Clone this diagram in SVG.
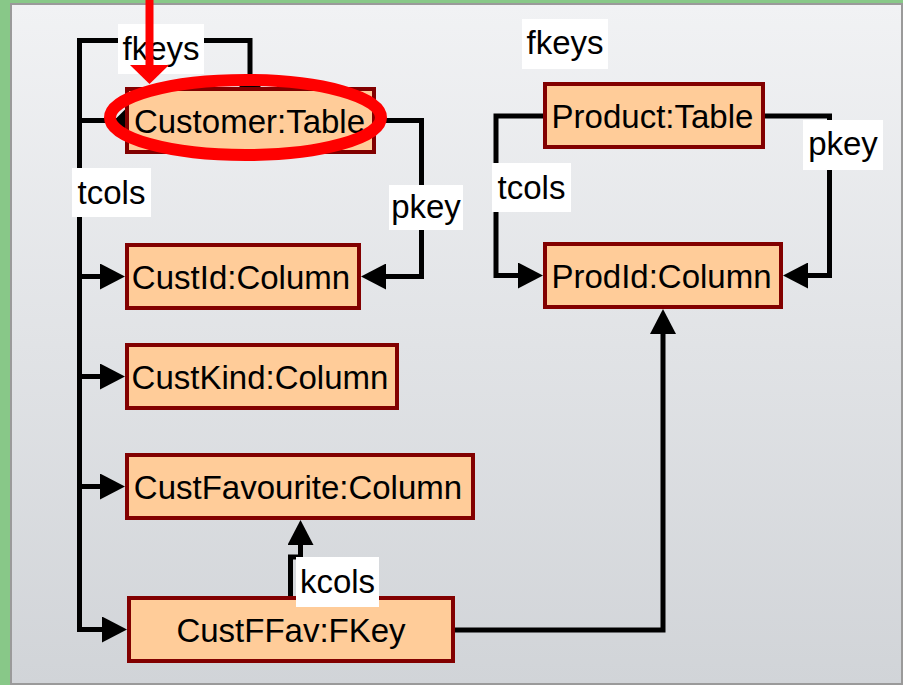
<svg xmlns="http://www.w3.org/2000/svg" width="903" height="685" viewBox="0 0 903 685">
<style>
.node rect{fill:#ffcc99;stroke:#820000;stroke-width:4}
.node text,.lbl text{font-family:"Liberation Sans",Arial,sans-serif;font-size:33px;fill:#000;text-anchor:middle}
.lbl rect{fill:#fff;stroke:none}
.conn path{fill:none;stroke:#000;stroke-width:5}
</style>
<defs>
<linearGradient id="bg" x1="0" y1="0" x2="0" y2="1">
<stop offset="0" stop-color="#f1f2f4"/>
<stop offset="1" stop-color="#d1d4d8"/>
</linearGradient>
<marker id="arr" markerUnits="userSpaceOnUse" viewBox="0 0 25 26" markerWidth="25" markerHeight="26" refX="0" refY="13" orient="auto">
<path d="M0,0 L25,13 L0,26 z" fill="#000"/>
</marker>
<marker id="dia" markerUnits="userSpaceOnUse" viewBox="0 0 24 24" markerWidth="24" markerHeight="24" refX="12" refY="12" orient="auto">
<path d="M0,12 L12,0 L24,12 L12,24 z" fill="#000"/>
</marker>
</defs>
<rect x="0" y="0" width="903" height="685" fill="#88c888"/>
<rect x="11" y="4" width="891" height="680" fill="url(#bg)" stroke="#9a9a9a" stroke-width="2"/>

<g id="connectors" class="conn">
<path d="M250,88 V40.5 H79.5 V120.5 H126" marker-start="url(#dia)" marker-end="url(#dia)"/>
<path d="M79.5,120.5 V276.5 H100" marker-end="url(#arr)"/>
<path d="M79.5,120.5 V376.5 H100" marker-end="url(#arr)"/>
<path d="M79.5,120.5 V486.5 H100" marker-end="url(#arr)"/>
<path d="M79.5,120.5 V629.5 H102" marker-end="url(#arr)"/>
<path d="M376,120.5 H421.5 V276.5 H386" marker-end="url(#arr)"/>
<path d="M543,116 H496 V275.5 H518" marker-end="url(#arr)"/>
<path d="M765,116 H829.5 V275.5 H808" marker-end="url(#arr)"/>
<path d="M455,630 H663 V334" marker-end="url(#arr)"/>
<path d="M290.5,597 V557 H300.5 V545" marker-end="url(#arr)"/>
</g>

<g id="node-customer" class="node"><rect x="127" y="89" width="247" height="63"/><text x="249.5" y="132.5">Customer:Table</text></g>
<g id="node-product" class="node"><rect x="545" y="84" width="218" height="63"/><text x="652.5" y="127.5">Product:Table</text></g>
<g id="node-prodid" class="node"><rect x="545" y="244" width="236" height="63"/><text x="661.5" y="287.5">ProdId:Column</text></g>
<g id="node-custid" class="node"><rect x="127" y="245" width="232" height="63"/><text x="241" y="288.5">CustId:Column</text></g>
<g id="node-custkind" class="node"><rect x="127" y="345" width="270" height="63"/><text x="260" y="388.5">CustKind:Column</text></g>
<g id="node-custfav" class="node"><rect x="127" y="455" width="346" height="63"/><text x="298" y="498.5">CustFavourite:Column</text></g>
<g id="node-custffav" class="node"><rect x="129" y="598" width="324" height="63"/><text x="291" y="641.5">CustFFav:FKey</text></g>

<g id="labels" class="lbl">
<rect x="118" y="24" width="86" height="50"/><text x="161" y="60">fkeys</text>
<rect x="72" y="168" width="79" height="49"/><text x="111.5" y="204">tcols</text>
<rect x="389" y="185" width="74" height="45"/><text x="426" y="218">pkey</text>
<rect x="522" y="19" width="86" height="50"/><text x="565" y="54">fkeys</text>
<rect x="492" y="163" width="79" height="49"/><text x="531.5" y="199">tcols</text>
<rect x="803" y="120" width="80" height="50"/><text x="843" y="155">pkey</text>
<rect x="296" y="557" width="83" height="50"/><text x="337.5" y="593">kcols</text>
</g>

<g id="highlight">
<ellipse cx="245.5" cy="117.5" rx="135.5" ry="37.5" fill="none" stroke="#ff0000" stroke-width="12"/>
<path d="M149.5,0 V66" stroke="#ff0000" stroke-width="8" fill="none"/>
<polygon points="130,65 169,65 149.5,84" fill="#ff0000"/>
</g>
</svg>
